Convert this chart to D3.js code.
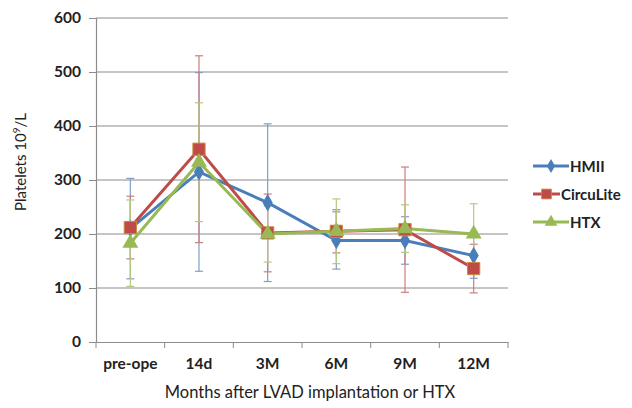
<!DOCTYPE html>
<html>
<head>
<meta charset="utf-8">
<script src="https://cdn.jsdelivr.net/npm/d3@7"></script>
<style>
  body { margin: 0; background: #fff; }
  svg { font-family: Lato, "Open Sans", sans-serif; }
</style>
</head>
<body>
<div id="graf"></div>
<script>
// Datos
categorias = ['pre-ope', '14d', '3M', '6M', '9M', '12M']
series = ['HMII', 'CircuLite', 'HTX']
hmii      = [210, 315, 258, 188, 188, 160]
hmiiSd    = [ 93, 184, 146,  53,  44,  42]
circulite = [212, 357, 202, 205, 208, 136]
circuSd   = [ 58, 173,  72,  40, 116,  45]
htx       = [183, 333, 200, 205, 210, 200]
htxSd     = [ 80, 110,  52,  60,  44,  56]
yTicks    = [0, 100, 200, 300, 400, 500, 600]

colores = ['#4a7ebb', '#be4b48', '#98b954']
coloresErr = ['#7f9fc8', '#cc7d7b', '#b3c97f']

datos = [
  {nombre: series[0], v: hmii, sd: hmiiSd},
  {nombre: series[1], v: circulite, sd: circuSd},
  {nombre: series[2], v: htx, sd: htxSd}
]

ancho_total = 632
alto_total = 408
margins = {top: 18, left: 96, right: 124, bottom: 66}
ancho = ancho_total - margins.left - margins.right
alto = alto_total - margins.top - margins.bottom

svg = d3.select('#graf').append('svg')
        .attr('width', ancho_total)
        .attr('height', alto_total)

g = svg.append('g')
       .attr('transform', `translate(${margins.left}, ${margins.top})`)

// -- Escaladores --
y = d3.scaleLinear().domain([0, 600]).range([alto, 0])
x = d3.scaleBand().domain(categorias).range([0, ancho])
color = d3.scaleOrdinal().domain(series).range(colores)
colorErr = d3.scaleOrdinal().domain(series).range(coloresErr)

// Grid
g.selectAll('.grid').data(yTicks.filter(d => d > 0)).enter()
  .append('line')
  .attr('x1', 0).attr('x2', ancho)
  .attr('y1', d => y(d)).attr('y2', d => y(d))
  .attr('stroke', '#8c8c8c').attr('stroke-width', 1.2)

// Ejes
yAx = g.append('g').call(d3.axisLeft(y).tickValues(yTicks).tickSize(7).tickPadding(8))
xAx = g.append('g').attr('transform', `translate(0, ${alto})`)
       .call(d3.axisBottom(x).tickSize(0).tickPadding(16))
yAx.select('.domain').attr('stroke', '#8c8c8c').attr('stroke-width', 1.2)
yAx.selectAll('.tick line').attr('stroke', '#8c8c8c')
xAx.select('.domain').attr('stroke', '#8c8c8c').attr('stroke-width', 1.2)
xAx.selectAll('.xt').data(categorias.concat(['fin'])).enter()
  .append('line')
  .attr('x1', (d, i) => i * x.step()).attr('x2', (d, i) => i * x.step())
  .attr('y1', 0).attr('y2', 6)
  .attr('stroke', '#8c8c8c')
svg.selectAll('.tick text')
   .attr('font-family', 'Lato, sans-serif')
   .attr('font-size', 15.5).attr('font-weight', 'bold').attr('fill', '#222')

// Títulos de ejes
svg.append('text')
   .attr('transform', 'translate(26, 162) rotate(-90)')
   .attr('text-anchor', 'middle')
   .attr('font-size', 15).attr('fill', '#222')
   .html('Platelets 10<tspan dy="-6" font-size="10">9</tspan><tspan dy="6">/L</tspan>')
svg.append('text')
   .attr('x', 310).attr('y', 398)
   .attr('text-anchor', 'middle')
   .attr('font-size', 16.5).attr('fill', '#222')
   .text('Months after LVAD implantation or HTX')

cx = d => x(d) + x.bandwidth() / 2

// Barras de error
datos.forEach(s => {
  eg = g.append('g').attr('stroke', colorErr(s.nombre)).attr('stroke-width', 1.2)
  categorias.forEach((c, i) => {
    lo = s.v[i] - s.sd[i]
    hi = s.v[i] + s.sd[i]
    eg.append('line').attr('x1', cx(c)).attr('x2', cx(c)).attr('y1', y(lo)).attr('y2', y(hi))
    eg.append('line').attr('x1', cx(c) - 4).attr('x2', cx(c) + 4).attr('y1', y(lo)).attr('y2', y(lo))
    eg.append('line').attr('x1', cx(c) - 4).attr('x2', cx(c) + 4).attr('y1', y(hi)).attr('y2', y(hi))
  })
})

// Líneas
linea = d3.line().x((d, i) => cx(categorias[i])).y(d => y(d))
simbolos = [d3.symbolDiamond, d3.symbolSquare, d3.symbolTriangle]
tamanos = [90, 150, 110]

function marcador(sel, i) {
  sel.append('path')
     .attr('d', d3.symbol().type(simbolos[i]).size(tamanos[i]))
     .attr('fill', colores[i])
     .attr('stroke', i === 1 ? '#c98a3d' : 'none')
     .attr('stroke-width', i === 1 ? 1 : 0)
}

datos.forEach((s, i) => {
  g.append('path').datum(s.v)
   .attr('d', linea)
   .attr('fill', 'none')
   .attr('stroke', color(s.nombre))
   .attr('stroke-width', 3)
})
datos.forEach((s, i) => {
  s.v.forEach((v, j) => {
    mg = g.append('g').attr('transform', `translate(${cx(categorias[j])}, ${y(v)})`)
    marcador(mg, i)
  })
})

// Leyenda
legLargo = [36, 27, 36]
leg = svg.append('g').attr('transform', 'translate(533, 166)')
datos.forEach((s, i) => {
  li = leg.append('g').attr('transform', `translate(0, ${i * 28})`)
  li.append('line').attr('x1', 0).attr('x2', legLargo[i]).attr('stroke', color(s.nombre)).attr('stroke-width', 3)
  mg = li.append('g').attr('transform', `translate(${legLargo[i] / 2}, 0) scale(0.8)`)
  marcador(mg, i)
  li.append('text').attr('x', legLargo[i] + 1).attr('y', 5.5)
    .attr('font-size', 15).attr('font-weight', 'bold').attr('fill', '#222')
    .text(s.nombre)
})
</script>
</body>
</html>
